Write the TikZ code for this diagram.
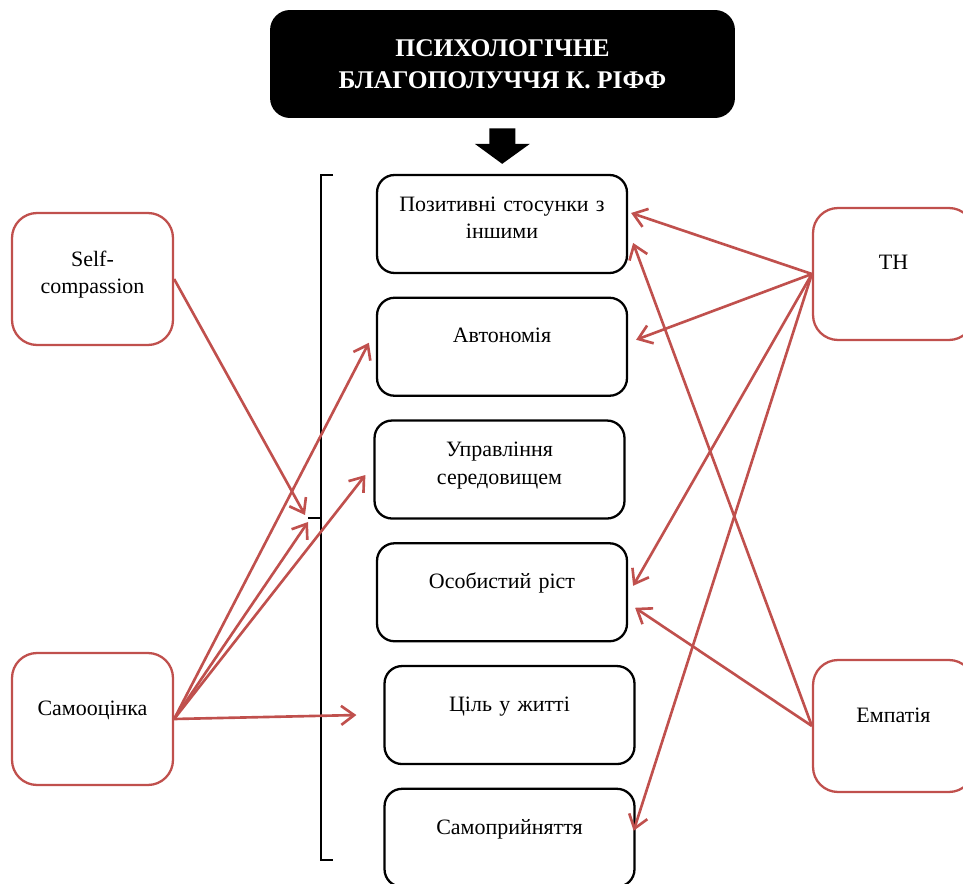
\documentclass[tikz,border=0pt]{standalone}
\usepackage{fontspec}
\setmainfont{Liberation Serif}
\usetikzlibrary{arrows.meta, positioning}
\definecolor{accent}{HTML}{C0504D}

\begin{document}
\begin{tikzpicture}[x=0.02cm, y=-0.02cm, node distance=0.45cm,
    every node/.style={font=\fontsize{12.5}{15.5}\selectfont, align=center},
    heading/.style={fill=black, text=white, rounded corners=0.4cm, minimum width=9.3cm,
        minimum height=2.16cm, font=\bfseries\fontsize{14.5}{18}\selectfont},
    factor/.style={draw, line width=1.3pt, rounded corners=0.35cm, minimum width=5cm,
        minimum height=1.96cm, text width=4.6cm, text depth=0.45cm},
    source/.style={draw=accent, line width=1.3pt, rounded corners=0.5cm, minimum width=3.22cm,
        minimum height=2.64cm, text width=2.8cm, text depth=0.45cm},
    twoline/.style={text depth=0.8cm},
    link/.style={draw=accent, line width=1.5pt, -{Straight Barb[length=2.6mm, width=3.8mm]}}]

        \useasboundingbox (0,0) rectangle (963,884);

        % title
        \node[heading] (title) at (502.5,64) {ПСИХОЛОГІЧНЕ\\БЛАГОПОЛУЧЧЯ К. РІФФ};

        % scales
        \node[factor, twoline] (pos) at (502,224) {Позитивні стосунки з\\іншими};
        \node[factor] (avt) [below = of pos] {Автономія};
        \node[factor, twoline] (upr) [below = of avt, xshift=-0.5mm] {Управління\\середовищем};
        \node[factor] (osob) [below = of upr, xshift=0.5mm] {Особистий ріст};
        \node[factor] (cil) [below = of osob, xshift=1.5mm] {Ціль у житті};
        \node[factor] (samopr) [below = of cil] {Самоприйняття};

        \draw[line width=5.2mm, -{Triangle[length=4mm, width=10.8mm]}, shorten <=2mm, shorten >=2mm]
            (title) -- (pos);

        % bracket
        \draw[line width=1.3pt] (333,175) -- (321,175) -- (321,860) -- (333,860);
        \coordinate (brk) at (308,518);
        \draw[line width=1.3pt] (321,518) -- (brk);

        % predictors
        \node[source, twoline] (sc) at (92.5,279) {Self-\\compassion};
        \node[source] (se) at (92.5,719) {Самооцінка};
        \node[source] (th) at (893.5,274) {ТН};
        \node[source] (emp) at (893.5,726) {Емпатія};

        % left paths
        \path[link] (sc.east) -- ([xshift=-0.6mm, yshift=0.6mm]brk);
        \path[link] (se.east) -- ([xshift=-1.4mm, yshift=0.8mm]avt.west);
        \path[link] (se.east) -- ([xshift=-1.6mm, yshift=-1.1mm]upr.west);
        \path[link] (se.east) -- ([yshift=-0.8mm]brk);
        \path[link] (se.east) -- ([xshift=-5.4mm]cil.west);

        % right paths
        \path[link] (th.west) -- ([xshift=0.6mm, yshift=2.2mm]pos.east);
        \path[link] (th.west) -- ([xshift=1.6mm, yshift=1.4mm]avt.east);
        \path[link] (th.west) -- ([xshift=1mm, yshift=1.3mm]osob.east);
        \path[link] (th.west) -- ([xshift=-0.4mm, yshift=1.4mm]samopr.east);
        \path[link] (emp.west) -- ([xshift=1mm, yshift=-3.8mm]pos.east);
        \path[link] (emp.west) -- ([xshift=1.4mm, yshift=-3.1mm]osob.east);

    \end{tikzpicture}
\end{document}
